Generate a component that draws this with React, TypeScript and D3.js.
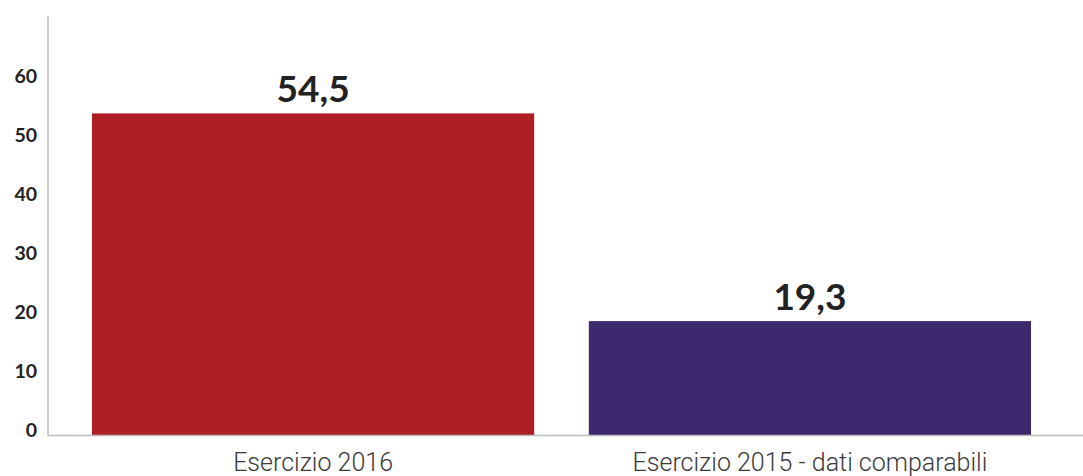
import React, { useEffect, useRef } from 'react';
import * as d3 from 'd3';

const categories = ['Esercizio 2016', 'Esercizio 2015 - dati comparabili'];
const values = [54.5, 19.3];
const valueLabels = ['54,5', '19,3'];
const barColors = ['#B01E25', '#3D2A6E'];
const yTicks = [0, 10, 20, 30, 40, 50, 60];

const width = 1083;
const height = 476;

const App: React.FC = () => {
  const svgRef = useRef<SVGSVGElement>(null);

  useEffect(() => {
    document.body.style.margin = '0';
    if (!svgRef.current) return;

    const svg = d3.select(svgRef.current);
    svg.selectAll('*').remove();

    const axisX = 48;
    const baseY = 435;

    const x = d3.scaleBand<string>()
      .domain(categories)
      .range([44, 1079])
      .paddingInner(0.11)
      .paddingOuter(0.0966);

    const y = d3.scaleLinear()
      .domain([0, 71])
      .range([baseY, 16]);

    // Bars
    svg.selectAll('rect.bar')
      .data(categories)
      .enter()
      .append('rect')
      .attr('class', 'bar')
      .attr('x', d => x(d)!)
      .attr('width', x.bandwidth())
      .attr('y', (d, i) => y(values[i]))
      .attr('height', (d, i) => baseY - y(values[i]))
      .attr('fill', (d, i) => barColors[i]);

    // Axis lines
    svg.append('line')
      .attr('x1', axisX).attr('x2', axisX)
      .attr('y1', 16).attr('y2', baseY + 1)
      .attr('stroke', '#bdbdbd').attr('stroke-width', 1.5);

    svg.append('line')
      .attr('x1', axisX).attr('x2', width)
      .attr('y1', baseY + 0.5).attr('y2', baseY + 0.5)
      .attr('stroke', '#bdbdbd').attr('stroke-width', 1.5);

    // Y tick labels
    svg.selectAll('text.tick')
      .data(yTicks)
      .enter()
      .append('text')
      .attr('class', 'tick')
      .attr('x', 37)
      .attr('y', d => y(d) - 5)
      .attr('dy', '0.36em')
      .attr('text-anchor', 'end')
      .style('font-family', 'Lato, "Noto Sans", sans-serif')
      .style('font-weight', '700')
      .style('font-size', '19.5px')
      .style('fill', '#222')
      .text(d => String(d));

    // Value labels
    svg.selectAll('text.value')
      .data(categories)
      .enter()
      .append('text')
      .attr('class', 'value')
      .attr('x', d => x(d)! + x.bandwidth() / 2)
      .attr('y', (d, i) => y(values[i]) - 11)
      .attr('text-anchor', 'middle')
      .style('font-family', 'Lato, "Noto Sans", sans-serif')
      .style('font-weight', '700')
      .style('font-size', '37px')
      .style('fill', '#222')
      .text((d, i) => valueLabels[i]);

    // Category labels
    svg.selectAll('text.cat')
      .data(categories)
      .enter()
      .append('text')
      .attr('class', 'cat')
      .attr('x', d => x(d)! + x.bandwidth() / 2)
      .attr('y', 471)
      .attr('text-anchor', 'middle')
      .style('font-family', 'Roboto, "Noto Sans", sans-serif')
      .style('font-weight', '300')
      .style('font-size', '25px')
      .style('fill', '#3a3a3a')
      .text(d => d);
  }, []);

  return (
    <svg ref={svgRef} width={width} height={height} style={{ display: 'block' }} />
  );
};

export default App;
